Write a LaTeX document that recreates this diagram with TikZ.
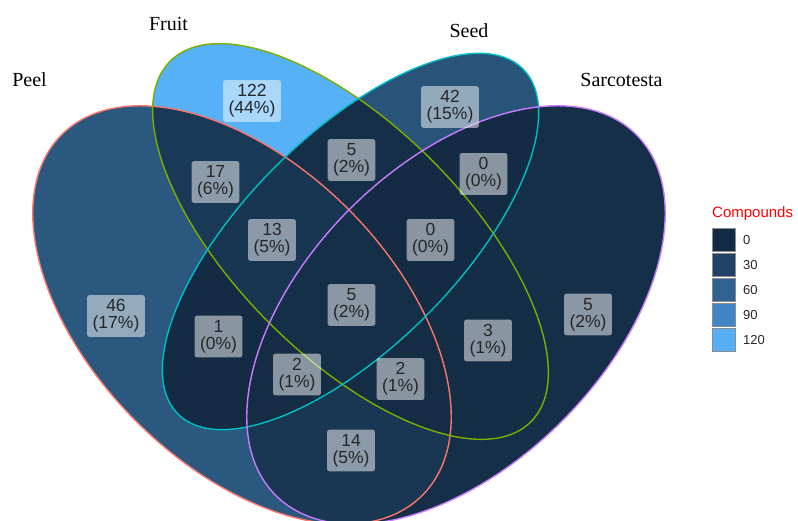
\documentclass[tikz,border=0pt]{standalone}
\usepackage{fontspec}
\usepackage{tikz}
\usetikzlibrary{positioning}
\newfontfamily\arialfont{Liberation Sans}
\newfontfamily\timesfont{Liberation Serif}
\definecolor{peelcol}{RGB}{248,118,109}
\definecolor{fruitcol}{RGB}{124,174,0}
\definecolor{seedcol}{RGB}{0,191,196}
\definecolor{sarcocol}{RGB}{199,124,255}
\definecolor{cnt0}{RGB}{19,43,67}
\definecolor{cnt1}{RGB}{19,44,68}
\definecolor{cnt2}{RGB}{20,45,69}
\definecolor{cnt3}{RGB}{20,46,70}
\definecolor{cnt5}{RGB}{21,47,73}
\definecolor{cnt13}{RGB}{24,53,82}
\definecolor{cnt14}{RGB}{25,54,83}
\definecolor{cnt17}{RGB}{26,57,87}
\definecolor{cnt42}{RGB}{40,84,121}
\definecolor{cnt46}{RGB}{42,88,126}
\definecolor{cnt122}{RGB}{86,177,247}
\definecolor{key30}{RGB}{31,67,102}
\definecolor{key60}{RGB}{46,99,146}
\definecolor{key90}{RGB}{64,134,196}
\definecolor{key120}{RGB}{85,175,245}
\def\peel{(242, 315) ellipse [x radius=255, y radius=150, rotate=-45]}
\def\sarco{(456, 315) ellipse [x radius=255, y radius=150, rotate=45]}
\def\fruit{(350.5, 241.5) ellipse [x radius=255, y radius=115, rotate=-45]}
\def\seed{(350.5, 241.5) ellipse [x radius=244, y radius=106, rotate=45]}
\tikzset{
	rim/.style={line width=1.4pt},
	countbox/.style={fill=white, fill opacity=0.5, text opacity=1, rounded corners=2.5pt, inner xsep=5.5pt, inner ysep=4.5pt, align=center, text=black!85, font=\arialfont\fontsize{17.5}{17}\selectfont},
	setlabel/.style={anchor=base, font=\timesfont\fontsize{20}{20}\selectfont},
	legkey/.style={draw=black!45, line width=0.6pt, minimum size=23.4pt, inner sep=0pt},
	leglabel/.style={inner sep=0pt, font=\arialfont\fontsize{13}{13}\selectfont, text=black!85}
}

\begin{document}
\begin{tikzpicture}[x=1pt, y=-1pt]
	%%%%% START %%%%%
	\useasboundingbox (0, 0) rectangle (798, 520);
	
	% one set
	\fill[cnt46] \peel;
	\fill[cnt5] \sarco;
	\fill[cnt122] \fruit;
	\fill[cnt42] \seed;
	
	% two sets
	\begin{scope} \clip \peel; \fill[cnt17] \fruit; \end{scope}
	\begin{scope} \clip \peel; \fill[cnt14] \sarco; \end{scope}
	\begin{scope} \clip \peel; \fill[cnt1] \seed; \end{scope}
	\begin{scope} \clip \fruit; \fill[cnt5] \seed; \end{scope}
	\begin{scope} \clip \fruit; \fill[cnt3] \sarco; \end{scope}
	\begin{scope} \clip \seed; \fill[cnt0] \sarco; \end{scope}
	
	% three sets
	\begin{scope} \clip \peel; \clip \fruit; \fill[cnt13] \seed; \end{scope}
	\begin{scope} \clip \peel; \clip \fruit; \fill[cnt2] \sarco; \end{scope}
	\begin{scope} \clip \peel; \clip \seed; \fill[cnt2] \sarco; \end{scope}
	\begin{scope} \clip \fruit; \clip \seed; \fill[cnt0] \sarco; \end{scope}
	
	% four sets
	\begin{scope} \clip \peel; \clip \fruit; \clip \seed; \fill[cnt5] \sarco; \end{scope}
	
	\draw[rim, peelcol] \peel;
	\draw[rim, fruitcol] \fruit;
	\draw[rim, seedcol] \seed;
	\draw[rim, sarcocol] \sarco;
	
	\node[setlabel] (peel) at (29.5, 86.7) {Peel};
	\node[setlabel] (fruit) at (168.5, 30.7) {Fruit};
	\node[setlabel] (seed) at (469, 37.3) {Seed};
	\node[setlabel] (sarco) at (621.5, 86.7) {Sarcotesta};
	
	\node[countbox] (f) at (252, 101) {122\\(44\%)};
	\node[countbox] (s) at (450, 107) {42\\(15\%)};
	\node[countbox] (p) at (116, 316) {46\\(17\%)};
	\node[countbox] (sa) at (588, 314.5) {5\\(2\%)};
	\node[countbox] (pf) at (215.5, 182) {17\\(6\%)};
	\node[countbox] (fs) at (351.5, 160) {5\\(2\%)};
	\node[countbox] (ssa) at (483.5, 174) {0\\(0\%)};
	\node[countbox] (pfs) at (272, 240) {13\\(5\%)};
	\node[countbox] (fssa) at (430.5, 240) {0\\(0\%)};
	\node[countbox] (ps) at (218.5, 336.5) {1\\(0\%)};
	\node[countbox] (all) at (351.5, 305) {5\\(2\%)};
	\node[countbox] (fsa) at (488, 340.5) {3\\(1\%)};
	\node[countbox] (pssa) at (297, 374.5) {2\\(1\%)};
	\node[countbox] (pfsa) at (400.5, 379) {2\\(1\%)};
	\node[countbox] (psa) at (351, 450.5) {14\\(5\%)};
	
	% legend
	\node[anchor=base west, inner sep=0pt, text=red, font=\arialfont\fontsize{15}{15}\selectfont] (title) at (712, 217.5) {Compounds};
	\node[legkey, fill=cnt0] (key0) at (724, 240) {};
	\node[legkey, fill=key30] (key30) at (724, 265) {};
	\node[legkey, fill=key60] (key60) at (724, 290) {};
	\node[legkey, fill=key90] (key90) at (724, 315) {};
	\node[legkey, fill=key120] (key120) at (724, 340) {};
	\node[leglabel, right=7pt of key0] (lab0) {0};
	\node[leglabel, right=7pt of key30] (lab30) {30};
	\node[leglabel, right=7pt of key60] (lab60) {60};
	\node[leglabel, right=7pt of key90] (lab90) {90};
	\node[leglabel, right=7pt of key120] (lab120) {120};
	%%%%% END %%%%%
\end{tikzpicture}
\end{document}
